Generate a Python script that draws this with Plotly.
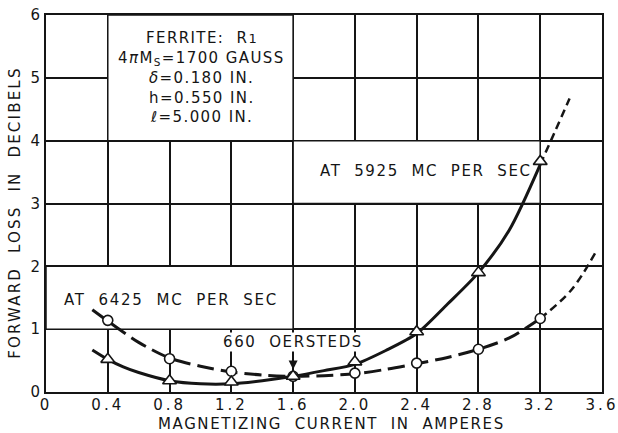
import plotly.graph_objects as go

# ---------------- data ----------------
x_points = [0.4, 0.8, 1.2, 1.6, 2.0, 2.4, 2.8, 3.2]
loss_5925_points = [0.52, 0.18, 0.16, 0.25, 0.48, 0.96, 1.90, 3.67]   # triangles
loss_6425_points = [1.14, 0.53, 0.33, 0.25, 0.30, 0.46, 0.68, 1.17]   # circles

curve_5925_x = [0.30, 0.40, 0.50, 0.60, 0.80, 1.00, 1.20, 1.40, 1.60, 1.80, 2.00, 2.20, 2.40, 2.60, 2.80, 3.00, 3.20]
curve_5925_y = [0.67, 0.52, 0.40, 0.31, 0.18, 0.13, 0.13, 0.18, 0.25, 0.34, 0.44, 0.66, 0.93, 1.40, 1.90, 2.58, 3.62]
ext_5925_x = [3.20, 3.30, 3.39]
ext_5925_y = [3.62, 4.17, 4.67]

curve_6425_x = [0.30, 0.40, 0.60, 0.80, 1.00, 1.20, 1.40, 1.60, 1.80, 2.00, 2.20, 2.40, 2.60, 2.80, 3.00, 3.20]
curve_6425_y = [1.31, 1.13, 0.79, 0.54, 0.41, 0.32, 0.27, 0.25, 0.26, 0.29, 0.36, 0.45, 0.55, 0.68, 0.86, 1.17]
ext_6425_x = [3.20, 3.40, 3.56]
ext_6425_y = [1.17, 1.62, 2.23]

x_ticks = [0, 0.4, 0.8, 1.2, 1.6, 2.0, 2.4, 2.8, 3.2, 3.6]
x_tick_labels = ["0", "0.4", "0.8", "1.2", "1.6", "2.0", "2.4", "2.8", "3.2", "3.6"]
y_ticks = [0, 1, 2, 3, 4, 5, 6]
y_tick_labels = ["0", "1", "2", "3", "4", "5", "6"]

box_lines = [
    "FERRITE:  R<span style='font-size:13px'>1</span>",
    "4<i>π</i>M<sub>S</sub>=1700 GAUSS",
    "<i>δ</i>=0.180 IN.",
    "h=0.550 IN.",
    "ℓ=5.000 IN.",
]
label_5925 = "AT  5925  MC  PER  SEC"
label_6425 = "AT  6425  MC  PER  SEC"
label_field = "660  OERSTEDS"
x_title = "MAGNETIZING  CURRENT  IN  AMPERES"
y_title = "FORWARD  LOSS  IN  DECIBELS"

# ---------------- styling ----------------
INK = "#151515"
FONT = "DejaVu Sans"


def spaced(t, px):
    return f"<span style='letter-spacing:{px}px'>{t}</span>"


fig = go.Figure()

# curves
fig.add_trace(go.Scatter(x=curve_5925_x, y=curve_5925_y, mode="lines",
                         line=dict(color=INK, width=3, shape="spline", smoothing=0.8)))
fig.add_trace(go.Scatter(x=ext_5925_x, y=ext_5925_y, mode="lines",
                         line=dict(color=INK, width=2.5, dash="8px,5px", shape="spline")))
fig.add_trace(go.Scatter(x=curve_6425_x, y=curve_6425_y, mode="lines",
                         line=dict(color=INK, width=3, dash="17px,7px", shape="spline", smoothing=0.8)))
fig.add_trace(go.Scatter(x=ext_6425_x, y=ext_6425_y, mode="lines",
                         line=dict(color=INK, width=2.5, dash="8px,5px", shape="spline")))

# markers
fig.add_trace(go.Scatter(x=x_points, y=loss_6425_points, mode="markers",
                         marker=dict(symbol="circle", size=10, color="white",
                                     line=dict(color=INK, width=1.6))))
fig.add_trace(go.Scatter(x=x_points, y=loss_5925_points, mode="markers",
                         marker=dict(symbol="triangle-up", size=12, color="white",
                                     line=dict(color=INK, width=1.6))))

# white panels that break the grid (label areas)
for x0, x1, y0, y1 in [(0.4, 1.6, 4, 6), (1.6, 3.2, 3, 4), (0, 1.6, 1, 2)]:
    fig.add_shape(type="rect", x0=x0, x1=x1, y0=y0, y1=y1, xref="x", yref="y",
                  fillcolor="white", line=dict(color=INK, width=1.5), layer="between")

# text box lines
box_top = 5.63
box_step = 0.315
for i, t in enumerate(box_lines):
    fig.add_annotation(x=1.01, y=box_top - i * box_step, xref="x", yref="y",
                       text=spaced(t, 1.4), showarrow=False, xanchor="center", yanchor="middle",
                       font=dict(family=FONT, size=15, color=INK))

fig.add_annotation(x=1.76, y=3.51, xref="x", yref="y", text=spaced(label_5925, 1.6),
                   showarrow=False, xanchor="left", yanchor="middle",
                   font=dict(family=FONT, size=15, color=INK))
fig.add_annotation(x=0.104, y=1.46, xref="x", yref="y", text=spaced(label_6425, 1.7),
                   showarrow=False, xanchor="left", yanchor="middle",
                   font=dict(family=FONT, size=15, color=INK))
fig.add_annotation(x=1.6, y=0.36, xref="x", yref="y", text=spaced(label_field, 1.6),
                   showarrow=True, ax=0, ay=-27, arrowhead=2, arrowsize=1.2, arrowwidth=1.5,
                   arrowcolor=INK, bgcolor="white", borderpad=0,
                   font=dict(family=FONT, size=15, color=INK))

# axis titles
fig.add_annotation(x=0.514, y=-0.086, xref="paper", yref="paper", text=spaced(x_title, 1.6),
                   showarrow=False, xanchor="center", yanchor="middle",
                   font=dict(family=FONT, size=15, color=INK))
fig.add_annotation(x=-0.056, y=0.475, xref="paper", yref="paper", text=spaced(y_title, 2.2),
                   showarrow=False, xanchor="center", yanchor="middle", textangle=-90,
                   font=dict(family=FONT, size=15, color=INK))

axis_common = dict(showgrid=True, gridcolor=INK, gridwidth=1.5, showline=True, linecolor=INK,
                   linewidth=2, mirror=True, ticks="", zeroline=False,
                   ticklabeloverflow="allow",
                   tickfont=dict(family=FONT, size=15, color=INK))
fig.update_xaxes(range=[0, 3.6], tickvals=x_ticks, ticklabelstandoff=-2,
                 ticktext=[spaced(t, 3) for t in x_tick_labels], **axis_common)
fig.update_yaxes(range=[0, 6], tickvals=y_ticks,
                 ticktext=[spaced(t, 1) for t in y_tick_labels], **axis_common)

fig.update_layout(template="none", width=618, height=433,
                  margin=dict(l=46, r=16, t=15, b=41),
                  paper_bgcolor="white", plot_bgcolor="white", showlegend=False)

fig.write_html("out.html")
